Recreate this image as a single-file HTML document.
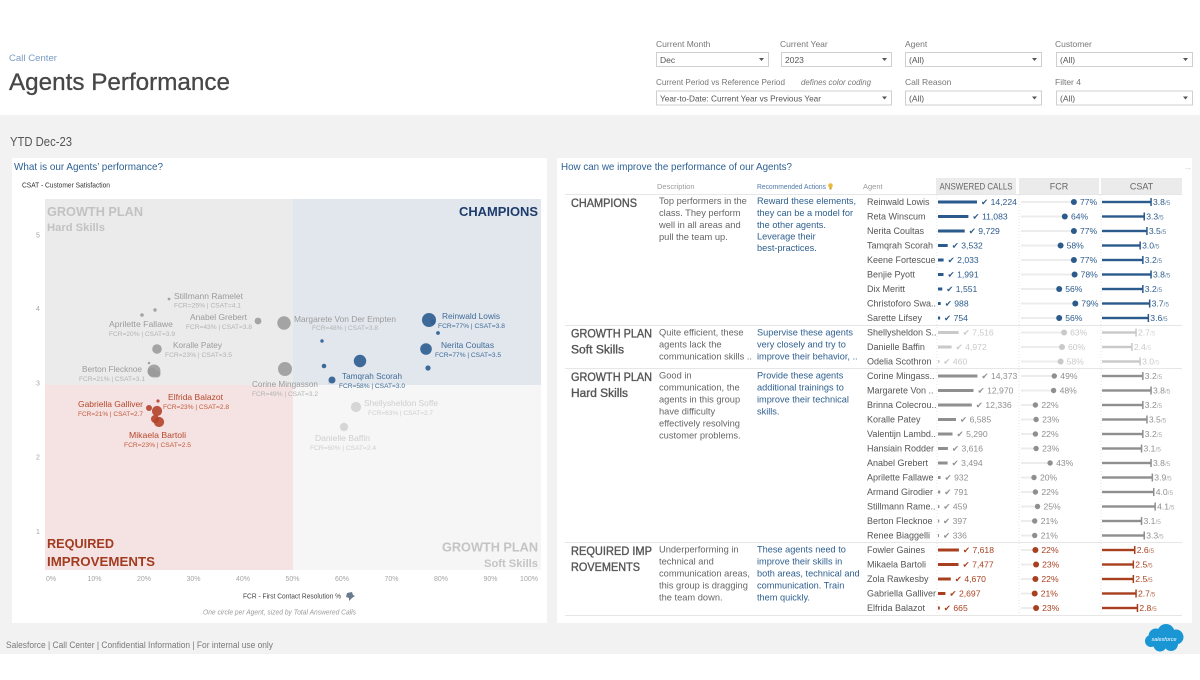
<!DOCTYPE html>
<html><head><meta charset="utf-8"><style>
html,body{margin:0;padding:0;background:#fff;}
body{width:1200px;height:680px;overflow:hidden;}
svg{display:block;}
.nm{fill:#555;font-size:9px;}
.v{font-size:8.6px;}
.s{font-size:6.5px;fill-opacity:.75;}
.fl{stroke:#ececec;stroke-width:2;}
.d{font-size:9.3px;fill:#666;}
.r{font-size:9.2px;fill:#2e5f8e;}
.g{font-size:11.5px;fill:#555;stroke:#555;stroke-width:0.35;}
.lab{font-size:8.5px;fill:#777;}
.box{fill:#fff;stroke:#cfcfcf;stroke-width:1;}
.bt{font-size:8.5px;fill:#555;}
.tk{font-size:7px;fill:#a5a5a5;}
</style></head><body>
<svg width="1200" height="680" viewBox="0 0 1200 680" font-family="Liberation Sans, DejaVu Sans, sans-serif">
<!-- header -->
<text x="9" y="61" font-size="9.6" fill="#7a9cc4">Call Center</text>
<text x="9" y="90" font-size="24" fill="#474747" stroke="#474747" stroke-width="0.3" textLength="221" lengthAdjust="spacingAndGlyphs">Agents Performance</text>

<!-- filters -->
<text class="lab" x="656" y="47">Current Month</text>
<text class="lab" x="780" y="47">Current Year</text>
<text class="lab" x="905" y="47">Agent</text>
<text class="lab" x="1055" y="47">Customer</text>
<rect class="box" x="656.5" y="52.5" width="112" height="14"/>
<rect class="box" x="781.5" y="52.5" width="110" height="14"/>
<rect class="box" x="905.5" y="52.5" width="136" height="14"/>
<rect class="box" x="1056.5" y="52.5" width="136" height="14"/>
<text class="bt" x="660" y="63">Dec</text>
<text class="bt" x="785" y="63">2023</text>
<text class="bt" x="909" y="63">(All)</text>
<text class="bt" x="1060" y="63">(All)</text>
<text class="lab" x="656" y="85" textLength="129" lengthAdjust="spacingAndGlyphs">Current Period vs Reference Period</text>
<text class="lab" x="801" y="85" font-style="italic" textLength="70" lengthAdjust="spacingAndGlyphs">defines color coding</text>
<text class="lab" x="905" y="85">Call Reason</text>
<text class="lab" x="1055" y="85">Filter 4</text>
<rect class="box" x="656.5" y="91" width="235" height="14"/>
<rect class="box" x="905.5" y="91" width="136" height="14"/>
<rect class="box" x="1056.5" y="91" width="136" height="14"/>
<text class="bt" x="660" y="101.5" textLength="161" lengthAdjust="spacingAndGlyphs">Year-to-Date: Current Year vs Previous Year</text>
<text class="bt" x="909" y="101.5">(All)</text>
<text class="bt" x="1060" y="101.5">(All)</text>
<g fill="#555">
<path d="M759 58h5l-2.5 3z"/><path d="M882 58h5l-2.5 3z"/><path d="M1032 58h5l-2.5 3z"/><path d="M1183 58h5l-2.5 3z"/>
<path d="M882 96.5h5l-2.5 3z"/><path d="M1032 96.5h5l-2.5 3z"/><path d="M1183 96.5h5l-2.5 3z"/>
</g>

<!-- gray band -->
<rect x="0" y="115" width="1200" height="539" fill="#f2f2f2"/>
<text x="10" y="146" font-size="13" fill="#555" textLength="62" lengthAdjust="spacingAndGlyphs">YTD Dec-23</text>

<!-- cards -->
<rect x="12" y="158" width="535" height="465" fill="#fff"/>
<rect x="557" y="158" width="635" height="465" fill="#fff"/>

<!-- footer -->
<text x="6" y="648" font-size="9" fill="#7a7a7a" textLength="267" lengthAdjust="spacingAndGlyphs">Salesforce | Call Center | Confidential Information | For internal use only</text>
<g fill="#1b96d4">
<circle cx="1156" cy="636" r="7.5"/><circle cx="1166" cy="632.5" r="8.5"/><circle cx="1176" cy="637" r="7.5"/>
<circle cx="1171" cy="644" r="7"/><circle cx="1160" cy="645" r="6.5"/><circle cx="1151" cy="641" r="6"/>
</g>
<text x="1164" y="641" font-size="5.5" fill="#fff" text-anchor="middle" font-style="italic">salesforce</text>

<!-- LEFT: scatter -->
<text x="14" y="170" font-size="10.5" fill="#2e6193" textLength="149" lengthAdjust="spacingAndGlyphs">What is our Agents’ performance?</text>
<text x="22" y="187.5" font-size="7" fill="#333" textLength="88" lengthAdjust="spacingAndGlyphs">CSAT - Customer Satisfaction</text>

<rect x="45" y="199" width="248" height="186" fill="#ebebeb"/>
<rect x="293" y="199" width="248" height="186" fill="#e2e7ed"/>
<rect x="45" y="385" width="248" height="185" fill="#f5e3e3"/>
<rect x="293" y="385" width="248" height="185" fill="#f6f6f6"/>

<g class="tk" text-anchor="middle">
<text x="38" y="237.5">5</text><text x="38" y="311">4</text><text x="38" y="385.5">3</text><text x="38" y="459.5">2</text><text x="38" y="534">1</text>
<text x="51" y="581">0%</text>
<text x="94.5" y="581">10%</text><text x="144" y="581">20%</text><text x="193.5" y="581">30%</text><text x="243" y="581">40%</text>
<text x="292.5" y="581">50%</text><text x="342" y="581">60%</text><text x="391.5" y="581">70%</text><text x="441" y="581">80%</text><text x="490.5" y="581">90%</text>
<text x="529" y="581">100%</text>
</g>

<text x="47" y="216" font-size="13" font-weight="bold" fill="#c2c2c2" textLength="96" lengthAdjust="spacingAndGlyphs">GROWTH PLAN</text>
<text x="47" y="231" font-size="11" font-weight="bold" fill="#c2c2c2" textLength="58" lengthAdjust="spacingAndGlyphs">Hard Skills</text>
<text x="459" y="216" font-size="13" font-weight="bold" fill="#1d3c6b" textLength="79" lengthAdjust="spacingAndGlyphs">CHAMPIONS</text>
<text x="47" y="548" font-size="13" font-weight="bold" fill="#a23b20" textLength="67" lengthAdjust="spacingAndGlyphs">REQUIRED</text>
<text x="47" y="566" font-size="13" font-weight="bold" fill="#a23b20" textLength="108" lengthAdjust="spacingAndGlyphs">IMPROVEMENTS</text>
<text x="442" y="551.5" font-size="13" font-weight="bold" fill="#c4c4c4" textLength="96" lengthAdjust="spacingAndGlyphs">GROWTH PLAN</text>
<text x="484" y="567" font-size="11" font-weight="bold" fill="#c4c4c4" textLength="54" lengthAdjust="spacingAndGlyphs">Soft Skills</text>

<text x="243" y="598.5" font-size="7" fill="#444" textLength="98" lengthAdjust="spacingAndGlyphs">FCR - First Contact Resolution %</text>
<path d="M347 593l5 -1l1 3l2 1l-3 2l-3 3l0 -3l-3 -1z" fill="#6b7b8f"/>
<text x="203" y="614.5" font-size="7" font-style="italic" fill="#9a9a9a" textLength="153" lengthAdjust="spacingAndGlyphs">One circle per Agent, sized by Total Answered Calls</text>

<!-- dots -->
<g fill="#d3d3d3" fill-opacity=".9">
<circle cx="356" cy="407" r="5.1"/><circle cx="344" cy="427" r="4.2"/><circle cx="329" cy="383" r="1.3"/>
</g>
<g fill="#9a9a9a" fill-opacity=".88">
<circle cx="285" cy="369" r="7"/><circle cx="284" cy="323" r="6.7"/><circle cx="154" cy="371" r="6.5"/>
<circle cx="157" cy="349" r="4.8"/><circle cx="152" cy="372" r="4.3"/><circle cx="157" cy="374" r="3.5"/>
<circle cx="258" cy="321" r="3.4"/><circle cx="142" cy="315" r="1.8"/><circle cx="155" cy="310" r="1.7"/>
<circle cx="169" cy="299" r="1.4"/><circle cx="149" cy="363" r="1.3"/>
</g>
<g fill="#2f5f91" fill-opacity=".92">
<circle cx="429" cy="320" r="7"/><circle cx="360" cy="361" r="6.2"/><circle cx="426" cy="349" r="5.8"/>
<circle cx="332" cy="380" r="3.5"/><circle cx="428" cy="368" r="2.6"/><circle cx="433" cy="322" r="2.6"/>
<circle cx="324" cy="366" r="2.3"/><circle cx="438" cy="333" r="1.9"/><circle cx="322" cy="341" r="1.7"/>
</g>
<g fill="#b3432a" fill-opacity=".9">
<circle cx="157" cy="411" r="5.1"/><circle cx="159" cy="422" r="5.1"/><circle cx="155" cy="419" r="4"/>
<circle cx="149" cy="408" r="3"/><circle cx="158" cy="401" r="1.6"/>
</g>

<!-- scatter labels -->
<g text-anchor="middle">
<g fill="#9b9b9b">
<text x="208.5" y="299" font-size="8.5" textLength="69" lengthAdjust="spacingAndGlyphs">Stillmann Ramelet</text>
<text x="141" y="327" font-size="8.5" textLength="64" lengthAdjust="spacingAndGlyphs">Aprilette Fallawe</text>
<text x="218.5" y="320" font-size="8.5" textLength="57" lengthAdjust="spacingAndGlyphs">Anabel Grebert</text>
<text x="345" y="322" font-size="8.5" textLength="102" lengthAdjust="spacingAndGlyphs">Margarete Von Der Empten</text>
<text x="197.5" y="348" font-size="8.5" textLength="49" lengthAdjust="spacingAndGlyphs">Koralle Patey</text>
<text x="112" y="372" font-size="8.5" textLength="60" lengthAdjust="spacingAndGlyphs">Berton Flecknoe</text>
<text x="285" y="387" font-size="8.5" textLength="66" lengthAdjust="spacingAndGlyphs">Corine Mingasson</text>
</g>
<g fill="#b2b2b2">
<text x="207.5" y="307.5" font-size="6.6" textLength="67" lengthAdjust="spacingAndGlyphs">FCR=25% | CSAT=4.1</text>
<text x="142" y="336" font-size="6.6" textLength="66" lengthAdjust="spacingAndGlyphs">FCR=20% | CSAT=3.9</text>
<text x="219" y="329" font-size="6.6" textLength="66" lengthAdjust="spacingAndGlyphs">FCR=43% | CSAT=3.8</text>
<text x="345" y="330" font-size="6.6" textLength="66" lengthAdjust="spacingAndGlyphs">FCR=48% | CSAT=3.8</text>
<text x="198.5" y="357" font-size="6.6" textLength="67" lengthAdjust="spacingAndGlyphs">FCR=23% | CSAT=3.5</text>
<text x="112" y="381" font-size="6.6" textLength="66" lengthAdjust="spacingAndGlyphs">FCR=21% | CSAT=3.1</text>
<text x="285" y="396" font-size="6.6" textLength="66" lengthAdjust="spacingAndGlyphs">FCR=49% | CSAT=3.2</text>
</g>
<g fill="#b5472a">
<text x="110.5" y="407" font-size="8.5" textLength="65" lengthAdjust="spacingAndGlyphs">Gabriella Galliver</text>
<text x="195.5" y="400" font-size="8.5" textLength="55" lengthAdjust="spacingAndGlyphs">Elfrida Balazot</text>
<text x="157.5" y="438" font-size="8.5" textLength="57" lengthAdjust="spacingAndGlyphs">Mikaela Bartoli</text>
</g>
<g fill="#c2593b">
<text x="110.5" y="416" font-size="6.6" textLength="65" lengthAdjust="spacingAndGlyphs">FCR=21% | CSAT=2.7</text>
<text x="196" y="409" font-size="6.6" textLength="66" lengthAdjust="spacingAndGlyphs">FCR=23% | CSAT=2.8</text>
<text x="157.5" y="447" font-size="6.6" textLength="67" lengthAdjust="spacingAndGlyphs">FCR=23% | CSAT=2.5</text>
</g>
<g fill="#3f6b98">
<text x="471" y="319" font-size="8.5" textLength="58" lengthAdjust="spacingAndGlyphs">Reinwald Lowis</text>
<text x="467.5" y="348" font-size="8.5" textLength="53" lengthAdjust="spacingAndGlyphs">Nerita Coultas</text>
<text x="372" y="379" font-size="8.5" textLength="60" lengthAdjust="spacingAndGlyphs">Tamqrah Scorah</text>
<text x="471.5" y="328" font-size="6.6" textLength="67" lengthAdjust="spacingAndGlyphs">FCR=77% | CSAT=3.8</text>
<text x="468" y="357" font-size="6.6" textLength="66" lengthAdjust="spacingAndGlyphs">FCR=77% | CSAT=3.5</text>
<text x="372" y="388" font-size="6.6" textLength="66" lengthAdjust="spacingAndGlyphs">FCR=58% | CSAT=3.0</text>
</g>
<g fill="#cfcfcf">
<text x="401" y="406" font-size="8.5" textLength="74" lengthAdjust="spacingAndGlyphs">Shellysheldon Soffe</text>
<text x="400.5" y="415" font-size="6.6" textLength="65" lengthAdjust="spacingAndGlyphs">FCR=63% | CSAT=2.7</text>
<text x="342.5" y="441" font-size="8.5" textLength="55" lengthAdjust="spacingAndGlyphs">Danielle Baffin</text>
<text x="343" y="450" font-size="6.6" textLength="66" lengthAdjust="spacingAndGlyphs">FCR=60% | CSAT=2.4</text>
</g>
</g>

<!-- RIGHT: table -->
<text x="561" y="170" font-size="10.5" fill="#2e6193" textLength="231" lengthAdjust="spacingAndGlyphs">How can we improve the performance of our Agents?</text>
<text x="1183" y="170" font-size="9" fill="#d0d0d0">→</text>
<text x="657" y="189" font-size="7.5" fill="#9a9a9a">Description</text>
<text x="757" y="189" font-size="7.5" fill="#4f79a8" textLength="69" lengthAdjust="spacingAndGlyphs">Recommended Actions</text>
<circle cx="830.5" cy="185.5" r="2.3" fill="#e8b93a"/><rect x="829.5" y="187.5" width="2" height="2" fill="#c99a2a"/>
<text x="863" y="189" font-size="7.5" fill="#9a9a9a">Agent</text>
<rect x="936" y="178" width="80" height="16" fill="#ebebeb"/>
<rect x="1019" y="178" width="80" height="16" fill="#ebebeb"/>
<rect x="1101" y="178" width="81" height="16" fill="#ebebeb"/>
<g font-size="9" fill="#666" text-anchor="middle">
<text x="976" y="189.5" textLength="73" lengthAdjust="spacingAndGlyphs">ANSWERED CALLS</text>
<text x="1059" y="189.5">FCR</text>
<text x="1141.5" y="189.5">CSAT</text>
</g>
<g stroke="#e6e6e6" stroke-width="1">
<line x1="565" y1="194.5" x2="1182" y2="194.5"/>
<line x1="565" y1="325.5" x2="1182" y2="325.5"/>
<line x1="565" y1="368.5" x2="1182" y2="368.5"/>
<line x1="565" y1="542.5" x2="1182" y2="542.5"/>
<line x1="565" y1="615.5" x2="1182" y2="615.5"/>
</g>
<g stroke="#e4e4e4" stroke-width="1" stroke-dasharray="1,2">
<line x1="937" y1="195" x2="937" y2="615"/>
<line x1="1019" y1="195" x2="1019" y2="615"/>
<line x1="1101" y1="195" x2="1101" y2="615"/>
</g>

<!-- group labels & text -->
<text class="g" x="571" y="207" textLength="66" lengthAdjust="spacingAndGlyphs">CHAMPIONS</text>
<text class="d" x="659" y="204">Top performers in the</text>
<text class="d" x="659" y="216">class. They perform</text>
<text class="d" x="659" y="228">well in all areas and</text>
<text class="d" x="659" y="240">pull the team up.</text>
<text class="r" x="757" y="204">Reward these elements,</text>
<text class="r" x="757" y="216">they can be a model for</text>
<text class="r" x="757" y="228">the other agents.</text>
<text class="r" x="757" y="239.5">Leverage their</text>
<text class="r" x="757" y="251">best-practices.</text>

<text class="g" x="571" y="337.5" textLength="81" lengthAdjust="spacingAndGlyphs">GROWTH PLAN</text>
<text class="g" x="571" y="353.5" textLength="53" lengthAdjust="spacingAndGlyphs">Soft Skills</text>
<text class="d" x="659" y="335.5">Quite efficient, these</text>
<text class="d" x="659" y="347.5">agents lack the</text>
<text class="d" x="659" y="359.5">communication skills ..</text>
<text class="r" x="757" y="335.5">Supervise these agents</text>
<text class="r" x="757" y="347.5">very closely and try to</text>
<text class="r" x="757" y="359.5">improve their behavior, ..</text>

<text class="g" x="571" y="381" textLength="81" lengthAdjust="spacingAndGlyphs">GROWTH PLAN</text>
<text class="g" x="571" y="397" textLength="57" lengthAdjust="spacingAndGlyphs">Hard Skills</text>
<text class="d" x="659" y="378.5">Good in</text>
<text class="d" x="659" y="390.5">communication, the</text>
<text class="d" x="659" y="402.5">agents in this group</text>
<text class="d" x="659" y="414.5">have difficulty</text>
<text class="d" x="659" y="426.5">effectively resolving</text>
<text class="d" x="659" y="438.5">customer problems.</text>
<text class="r" x="757" y="378.5">Provide these agents</text>
<text class="r" x="757" y="390.5">additional trainings to</text>
<text class="r" x="757" y="402.5">improve their technical</text>
<text class="r" x="757" y="414.5">skills.</text>

<text class="g" x="571" y="555" textLength="81" lengthAdjust="spacingAndGlyphs">REQUIRED IMP</text>
<text class="g" x="571" y="571" textLength="69" lengthAdjust="spacingAndGlyphs">ROVEMENTS</text>
<text class="d" x="659" y="552.5">Underperforming in</text>
<text class="d" x="659" y="564.5">technical and</text>
<text class="d" x="659" y="576.5">communication areas,</text>
<text class="d" x="659" y="588.5">this group is dragging</text>
<text class="d" x="659" y="600.5">the team down.</text>
<text class="r" x="757" y="552.5">These agents need to</text>
<text class="r" x="757" y="564.5">improve their skills in</text>
<text class="r" x="757" y="576.5">both areas, technical and</text>
<text class="r" x="757" y="588.5">communication. Train</text>
<text class="r" x="757" y="600.5">them quickly.</text>

<!-- FCR baseline lines -->
<g class="fl">
<line x1="1021" y1="202" x2="1074" y2="202"/><line x1="1021" y1="216.5" x2="1065" y2="216.5"/><line x1="1021" y1="231" x2="1074" y2="231"/>
<line x1="1021" y1="245.5" x2="1060" y2="245.5"/><line x1="1021" y1="260" x2="1074" y2="260"/><line x1="1021" y1="274.5" x2="1074" y2="274.5"/>
<line x1="1021" y1="289" x2="1059" y2="289"/><line x1="1021" y1="303.5" x2="1075" y2="303.5"/><line x1="1021" y1="318" x2="1059" y2="318"/>
<line x1="1021" y1="332.5" x2="1064" y2="332.5"/><line x1="1021" y1="347" x2="1062" y2="347"/><line x1="1021" y1="361.5" x2="1060" y2="361.5"/>
<line x1="1021" y1="376" x2="1054" y2="376"/><line x1="1021" y1="390.5" x2="1053" y2="390.5"/><line x1="1021" y1="405" x2="1035" y2="405"/>
<line x1="1021" y1="419.5" x2="1036" y2="419.5"/><line x1="1021" y1="434" x2="1035" y2="434"/><line x1="1021" y1="448.5" x2="1036" y2="448.5"/>
<line x1="1021" y1="463" x2="1050" y2="463"/><line x1="1021" y1="477.5" x2="1034" y2="477.5"/><line x1="1021" y1="492" x2="1035" y2="492"/>
<line x1="1021" y1="506.5" x2="1037" y2="506.5"/><line x1="1021" y1="521" x2="1035" y2="521"/><line x1="1021" y1="535.5" x2="1035" y2="535.5"/>
<line x1="1021" y1="550" x2="1035" y2="550"/><line x1="1021" y1="564.5" x2="1036" y2="564.5"/><line x1="1021" y1="579" x2="1035" y2="579"/>
<line x1="1021" y1="593.5" x2="1035" y2="593.5"/><line x1="1021" y1="608" x2="1036" y2="608"/>
</g>

<!-- agent names -->
<g class="nm">
<text x="867" y="205.2">Reinwald Lowis</text>
<text x="867" y="219.7">Reta Winscum</text>
<text x="867" y="234.2">Nerita Coultas</text>
<text x="867" y="248.7">Tamqrah Scorah</text>
<text x="867" y="263.2">Keene Fortescue</text>
<text x="867" y="277.7">Benjie Pyott</text>
<text x="867" y="292.2">Dix Meritt</text>
<text x="867" y="306.7">Christoforo Swa..</text>
<text x="867" y="321.2">Sarette Lifsey</text>
<text x="867" y="335.7">Shellysheldon S..</text>
<text x="867" y="350.2">Danielle Baffin</text>
<text x="867" y="364.7">Odelia Scothron</text>
<text x="867" y="379.2">Corine Mingass..</text>
<text x="867" y="393.7">Margarete Von ..</text>
<text x="867" y="408.2">Brinna Colecrou..</text>
<text x="867" y="422.7">Koralle Patey</text>
<text x="867" y="437.2">Valentijn Lambd..</text>
<text x="867" y="451.7">Hansiain Rodder</text>
<text x="867" y="466.2">Anabel Grebert</text>
<text x="867" y="480.7">Aprilette Fallawe</text>
<text x="867" y="495.2">Armand Girodier</text>
<text x="867" y="509.7">Stillmann Rame..</text>
<text x="867" y="524.2">Berton Flecknoe</text>
<text x="867" y="538.7">Renee Biaggelli</text>
<text x="867" y="553.2">Fowler Gaines</text>
<text x="867" y="567.7">Mikaela Bartoli</text>
<text x="867" y="582.2">Zola Rawkesby</text>
<text x="867" y="596.7">Gabriella Galliver</text>
<text x="867" y="611.2">Elfrida Balazot</text>
</g>

<!-- BLUE group -->
<g fill="#2b5a8c">
<rect x="938" y="200.5" width="39" height="3"/><rect x="938" y="215" width="30.4" height="3"/><rect x="938" y="229.5" width="26.7" height="3"/>
<rect x="938" y="244" width="9.7" height="3"/><rect x="938" y="258.5" width="5.6" height="3"/><rect x="938" y="273" width="5.5" height="3"/>
<rect x="938" y="287.5" width="4.3" height="3"/><rect x="938" y="302" width="2.7" height="3"/><rect x="938" y="316.5" width="2.1" height="3"/>
<g class="v">
<text x="981" y="205.2">✔ 14,224</text><text x="972.4" y="219.7">✔ 11,083</text><text x="968.7" y="234.2">✔ 9,729</text>
<text x="951.7" y="248.7">✔ 3,532</text><text x="947.6" y="263.2">✔ 2,033</text><text x="947.5" y="277.7">✔ 1,991</text>
<text x="946.2" y="292.2">✔ 1,551</text><text x="944.7" y="306.7">✔ 988</text><text x="944" y="321.2">✔ 754</text>
<text x="1080" y="205.2">77%</text><text x="1071" y="219.7">64%</text><text x="1080" y="234.2">77%</text>
<text x="1066.6" y="248.7">58%</text><text x="1080" y="263.2">77%</text><text x="1080.6" y="277.7">78%</text>
<text x="1065.2" y="292.2">56%</text><text x="1081.3" y="306.7">79%</text><text x="1065.2" y="321.2">56%</text>
<text x="1153" y="205.2">3.8<tspan class="s">/5</tspan></text><text x="1146.2" y="219.7">3.3<tspan class="s">/5</tspan></text>
<text x="1148.9" y="234.2">3.5<tspan class="s">/5</tspan></text><text x="1142.1" y="248.7">3.0<tspan class="s">/5</tspan></text>
<text x="1144.8" y="263.2">3.2<tspan class="s">/5</tspan></text><text x="1153" y="277.7">3.8<tspan class="s">/5</tspan></text>
<text x="1144.8" y="292.2">3.2<tspan class="s">/5</tspan></text><text x="1151.6" y="306.7">3.7<tspan class="s">/5</tspan></text>
<text x="1150.3" y="321.2">3.6<tspan class="s">/5</tspan></text>
</g>
<circle cx="1073.9" cy="202" r="3"/><circle cx="1064.8" cy="216.5" r="3"/><circle cx="1073.9" cy="231" r="3"/>
<circle cx="1060.6" cy="245.5" r="3"/><circle cx="1073.9" cy="260" r="3"/><circle cx="1074.6" cy="274.5" r="3"/>
<circle cx="1059.2" cy="289" r="3"/><circle cx="1075.3" cy="303.5" r="3"/><circle cx="1059.2" cy="318" r="3"/>
<rect x="1102" y="200.8" width="49" height="2.4"/><rect x="1150.3" y="198" width="1.5" height="8"/>
<rect x="1102" y="215.3" width="42.2" height="2.4"/><rect x="1143.5" y="212.5" width="1.5" height="8"/>
<rect x="1102" y="229.8" width="44.9" height="2.4"/><rect x="1146.2" y="227" width="1.5" height="8"/>
<rect x="1102" y="244.3" width="38.1" height="2.4"/><rect x="1139.4" y="241.5" width="1.5" height="8"/>
<rect x="1102" y="258.8" width="40.8" height="2.4"/><rect x="1142.1" y="256" width="1.5" height="8"/>
<rect x="1102" y="273.3" width="49" height="2.4"/><rect x="1150.3" y="270.5" width="1.5" height="8"/>
<rect x="1102" y="287.8" width="40.8" height="2.4"/><rect x="1142.1" y="285" width="1.5" height="8"/>
<rect x="1102" y="302.3" width="47.6" height="2.4"/><rect x="1148.9" y="299.5" width="1.5" height="8"/>
<rect x="1102" y="316.8" width="46.3" height="2.4"/><rect x="1147.6" y="314" width="1.5" height="8"/>
</g>

<!-- LIGHT GRAY group -->
<g fill="#c9c9c9">
<rect x="938" y="331" width="20.6" height="3"/><rect x="938" y="345.5" width="13.6" height="3"/><rect x="938" y="360" width="1.4" height="3"/>
<g class="v">
<text x="962.6" y="335.7">✔ 7,516</text><text x="955.6" y="350.2">✔ 4,972</text><text x="943.3" y="364.7">✔ 460</text>
<text x="1070.1" y="335.7">63%</text><text x="1068" y="350.2">60%</text><text x="1066.6" y="364.7">58%</text>
<text x="1138" y="335.7">2.7<tspan class="s">/5</tspan></text><text x="1133.9" y="350.2">2.4<tspan class="s">/5</tspan></text>
<text x="1142.1" y="364.7">3.0<tspan class="s">/5</tspan></text>
</g>
<circle cx="1064.1" cy="332.5" r="3"/><circle cx="1062" cy="347" r="3"/><circle cx="1060.6" cy="361.5" r="3"/>
<rect x="1102" y="331.3" width="34" height="2.4"/><rect x="1135.3" y="328.5" width="1.5" height="8"/>
<rect x="1102" y="345.8" width="29.9" height="2.4"/><rect x="1131.2" y="343" width="1.5" height="8"/>
<rect x="1102" y="360.3" width="38.1" height="2.4"/><rect x="1139.4" y="357.5" width="1.5" height="8"/>
</g>

<!-- GRAY group -->
<g fill="#8f8f8f">
<rect x="938" y="374.5" width="39.4" height="3"/><rect x="938" y="389" width="35.5" height="3"/><rect x="938" y="403.5" width="33.8" height="3"/>
<rect x="938" y="418" width="18" height="3"/><rect x="938" y="432.5" width="14.5" height="3"/><rect x="938" y="447" width="9.9" height="3"/>
<rect x="938" y="461.5" width="9.6" height="3"/><rect x="938" y="476" width="2.6" height="3"/><rect x="938" y="490.5" width="2.2" height="3"/>
<rect x="938" y="505" width="1.3" height="3"/><rect x="938" y="519.5" width="1.2" height="3"/><rect x="938" y="534" width="1" height="3"/>
<g class="v">
<text x="981.4" y="379.2">✔ 14,373</text><text x="977.5" y="393.7">✔ 12,970</text><text x="975.8" y="408.2">✔ 12,336</text>
<text x="960" y="422.7">✔ 6,585</text><text x="956.5" y="437.2">✔ 5,290</text><text x="951.9" y="451.7">✔ 3,616</text>
<text x="951.6" y="466.2">✔ 3,494</text><text x="944.5" y="480.7">✔ 932</text><text x="944.2" y="495.2">✔ 791</text>
<text x="943.3" y="509.7">✔ 459</text><text x="943" y="524.2">✔ 397</text><text x="943" y="538.7">✔ 336</text>
<text x="1060.3" y="379.2">49%</text><text x="1059.6" y="393.7">48%</text><text x="1041.4" y="408.2">22%</text>
<text x="1042.1" y="422.7">23%</text><text x="1041.4" y="437.2">22%</text><text x="1042.1" y="451.7">23%</text>
<text x="1056.1" y="466.2">43%</text><text x="1040" y="480.7">20%</text><text x="1041.4" y="495.2">22%</text>
<text x="1043.5" y="509.7">25%</text><text x="1040.7" y="524.2">21%</text><text x="1040.7" y="538.7">21%</text>
<text x="1144.8" y="379.2">3.2<tspan class="s">/5</tspan></text><text x="1153" y="393.7">3.8<tspan class="s">/5</tspan></text>
<text x="1144.8" y="408.2">3.2<tspan class="s">/5</tspan></text><text x="1148.9" y="422.7">3.5<tspan class="s">/5</tspan></text>
<text x="1144.8" y="437.2">3.2<tspan class="s">/5</tspan></text><text x="1143.5" y="451.7">3.1<tspan class="s">/5</tspan></text>
<text x="1153" y="466.2">3.8<tspan class="s">/5</tspan></text><text x="1154.3" y="480.7">3.9<tspan class="s">/5</tspan></text>
<text x="1155.7" y="495.2">4.0<tspan class="s">/5</tspan></text><text x="1157.1" y="509.7">4.1<tspan class="s">/5</tspan></text>
<text x="1143.5" y="524.2">3.1<tspan class="s">/5</tspan></text><text x="1146.2" y="538.7">3.3<tspan class="s">/5</tspan></text>
</g>
<circle cx="1054.3" cy="376" r="2.7"/><circle cx="1053.6" cy="390.5" r="2.7"/><circle cx="1035.4" cy="405" r="2.7"/>
<circle cx="1036.1" cy="419.5" r="2.7"/><circle cx="1035.4" cy="434" r="2.7"/><circle cx="1036.1" cy="448.5" r="2.7"/>
<circle cx="1050.1" cy="463" r="2.7"/><circle cx="1034" cy="477.5" r="2.7"/><circle cx="1035.4" cy="492" r="2.7"/>
<circle cx="1037.5" cy="506.5" r="2.7"/><circle cx="1034.7" cy="521" r="2.7"/><circle cx="1034.7" cy="535.5" r="2.7"/>
<rect x="1102" y="374.8" width="40.8" height="2.4"/><rect x="1142.1" y="372" width="1.5" height="8"/>
<rect x="1102" y="389.3" width="49" height="2.4"/><rect x="1150.3" y="386.5" width="1.5" height="8"/>
<rect x="1102" y="403.8" width="40.8" height="2.4"/><rect x="1142.1" y="401" width="1.5" height="8"/>
<rect x="1102" y="418.3" width="44.9" height="2.4"/><rect x="1146.2" y="415.5" width="1.5" height="8"/>
<rect x="1102" y="432.8" width="40.8" height="2.4"/><rect x="1142.1" y="430" width="1.5" height="8"/>
<rect x="1102" y="447.3" width="39.5" height="2.4"/><rect x="1140.8" y="444.5" width="1.5" height="8"/>
<rect x="1102" y="461.8" width="49" height="2.4"/><rect x="1150.3" y="459" width="1.5" height="8"/>
<rect x="1102" y="476.3" width="50.3" height="2.4"/><rect x="1151.6" y="473.5" width="1.5" height="8"/>
<rect x="1102" y="490.8" width="51.7" height="2.4"/><rect x="1153" y="488" width="1.5" height="8"/>
<rect x="1102" y="505.3" width="53.1" height="2.4"/><rect x="1154.4" y="502.5" width="1.5" height="8"/>
<rect x="1102" y="519.8" width="39.5" height="2.4"/><rect x="1140.8" y="517" width="1.5" height="8"/>
<rect x="1102" y="534.3" width="42.2" height="2.4"/><rect x="1143.5" y="531.5" width="1.5" height="8"/>
</g>

<!-- RED group -->
<g fill="#a8401f">
<rect x="938" y="548.5" width="20.9" height="3"/><rect x="938" y="563" width="20.5" height="3"/><rect x="938" y="577.5" width="12.8" height="3"/>
<rect x="938" y="592" width="7.4" height="3"/><rect x="938" y="606.5" width="1.8" height="3"/>
<g class="v">
<text x="962.9" y="553.2">✔ 7,618</text><text x="962.5" y="567.7">✔ 7,477</text><text x="954.8" y="582.2">✔ 4,670</text>
<text x="949.4" y="596.7">✔ 2,697</text><text x="943.8" y="611.2">✔ 665</text>
<text x="1041.4" y="553.2">22%</text><text x="1042.1" y="567.7">23%</text><text x="1041.4" y="582.2">22%</text>
<text x="1040.7" y="596.7">21%</text><text x="1042.1" y="611.2">23%</text>
<text x="1136.7" y="553.2">2.6<tspan class="s">/5</tspan></text><text x="1135.3" y="567.7">2.5<tspan class="s">/5</tspan></text>
<text x="1135.3" y="582.2">2.5<tspan class="s">/5</tspan></text><text x="1138" y="596.7">2.7<tspan class="s">/5</tspan></text>
<text x="1139.4" y="611.2">2.8<tspan class="s">/5</tspan></text>
</g>
<circle cx="1035.4" cy="550" r="3"/><circle cx="1036.1" cy="564.5" r="3"/><circle cx="1035.4" cy="579" r="3"/>
<circle cx="1034.7" cy="593.5" r="3"/><circle cx="1036.1" cy="608" r="3"/>
<rect x="1102" y="548.8" width="32.7" height="2.4"/><rect x="1134" y="546" width="1.5" height="8"/>
<rect x="1102" y="563.3" width="31.3" height="2.4"/><rect x="1132.6" y="560.5" width="1.5" height="8"/>
<rect x="1102" y="577.8" width="31.3" height="2.4"/><rect x="1132.6" y="575" width="1.5" height="8"/>
<rect x="1102" y="592.3" width="34" height="2.4"/><rect x="1135.3" y="589.5" width="1.5" height="8"/>
<rect x="1102" y="606.8" width="35.4" height="2.4"/><rect x="1136.7" y="604" width="1.5" height="8"/>
</g>
</svg>
</body></html>
